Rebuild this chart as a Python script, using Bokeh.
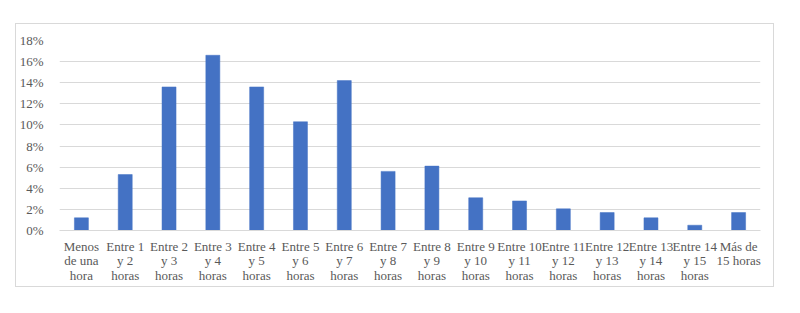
from bokeh.plotting import figure
from bokeh.models import FactorRange, NumeralTickFormatter, FixedTicker
from bokeh.embed import file_html
from bokeh.resources import INLINE

categories = [
    "Menos\nde una\nhora", "Entre 1\ny 2\nhoras", "Entre 2\ny 3\nhoras", "Entre 3\ny 4\nhoras",
    "Entre 4\ny 5\nhoras", "Entre 5\ny 6\nhoras", "Entre 6\ny 7\nhoras", "Entre 7\ny 8\nhoras",
    "Entre 8\ny 9\nhoras", "Entre 9\ny 10\nhoras", "Entre 10\ny 11\nhoras", "Entre 11\ny 12\nhoras",
    "Entre 12\ny 13\nhoras", "Entre 13\ny 14\nhoras", "Entre 14\ny 15\nhoras", "Más de\n15 horas",
]
values = [0.012, 0.053, 0.136, 0.166, 0.136, 0.103, 0.142, 0.056,
          0.061, 0.031, 0.028, 0.0205, 0.017, 0.012, 0.005, 0.017]
y_ticks = [0.0, 0.02, 0.04, 0.06, 0.08, 0.10, 0.12, 0.14, 0.16, 0.18]

FONT = "Liberation Serif"
GREY = "#595959"
GRID = "#D9D9D9"

p = figure(
    width=759, height=264,
    x_range=FactorRange(factors=categories, range_padding=0),
    y_range=(0, 0.18),
    output_backend="svg", toolbar_location=None,
    min_border_left=42, min_border_right=15, min_border_top=16, min_border_bottom=58,
)
p.margin = (23, 0, 0, 15)
p.styles = {"border": "1.5px solid #D9D9D9"}

p.vbar(x=categories, top=values, width=0.32, fill_color="#4472C4", line_color="#4472C4", line_width=0.5)

p.outline_line_color = None
p.background_fill_color = "white"
p.border_fill_color = "white"

p.xgrid.grid_line_color = None
p.ygrid.grid_line_color = GRID
p.ygrid.grid_line_width = 1

p.yaxis.ticker = FixedTicker(ticks=y_ticks)
p.yaxis.formatter = NumeralTickFormatter(format="0%")
p.yaxis.axis_line_color = None
p.yaxis.major_tick_line_color = None
p.yaxis.minor_tick_line_color = None
p.yaxis.major_label_standoff = 10

p.xaxis.axis_line_color = GRID
p.xaxis.axis_line_width = 1
p.xaxis.major_tick_line_color = None
p.xaxis.minor_tick_line_color = None
p.xaxis.major_label_standoff = 2
p.xaxis.major_label_orientation = "horizontal"
p.xaxis.major_label_text_line_height = 0.97

for ax in (p.xaxis, p.yaxis):
    ax.major_label_text_font = FONT
    ax.major_label_text_font_size = "13px"
    ax.major_label_text_color = GREY

open("out.html", "w").write(file_html(p, INLINE))
